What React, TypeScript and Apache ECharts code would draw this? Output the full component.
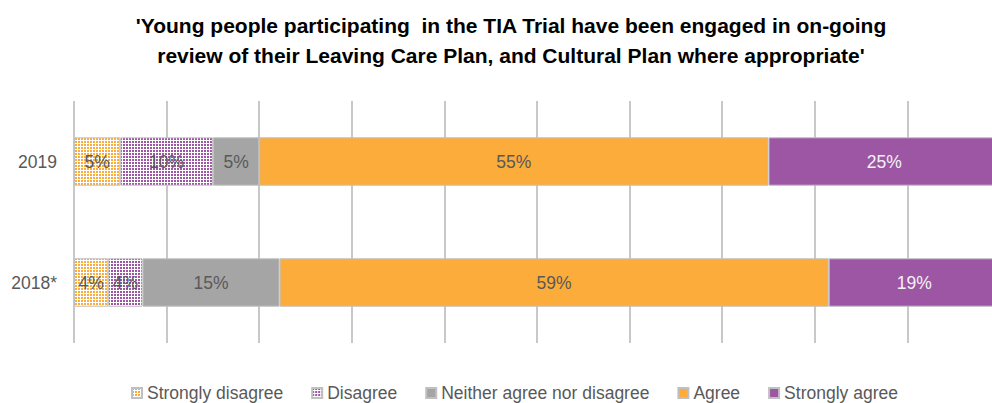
import React, { useEffect, useRef } from "react";
import * as echarts from "echarts";

const categories = ["2018*", "2019"];
const seriesNames = ["Strongly disagree", "Disagree", "Neither agree nor disagree", "Agree", "Strongly agree"];
const stronglyDisagree = [3.7, 5];
const disagree = [3.7, 10];
const neither = [14.8, 5];
const agree = [59.3, 55];
const stronglyAgree = [18.5, 25];
const titleLines = [
  "'Young people participating  in the TIA Trial have been engaged in on-going",
  "review of their Leaving Care Plan, and Cultural Plan where appropriate'",
];

function makePattern(color: string) {
  const c = document.createElement("canvas");
  c.width = 3;
  c.height = 3;
  const ctx = c.getContext("2d")!;
  ctx.fillStyle = "#ffffff";
  ctx.fillRect(0, 0, 3, 3);
  ctx.fillStyle = color;
  ctx.fillRect(0, 0, 2, 2);
  return c;
}

export default function App() {
  const ref = useRef<HTMLDivElement>(null);
  useEffect(() => {
    document.body.style.margin = "0";
    document.body.style.overflow = "hidden";
    const chart = echarts.init(ref.current!, null, { renderer: "svg" });
    const font = "'Liberation Sans', Arial, sans-serif";
    const dark = "#595959";
    const orange = "#FBAC3A";
    const purple = "#9C56A4";
    const grey = "#A5A5A5";
    const fills: any[] = [
      { image: makePattern(orange), repeat: "repeat" },
      { image: makePattern(purple), repeat: "repeat" },
      grey,
      orange,
      purple,
    ];
    const dataSets = [stronglyDisagree, disagree, neither, agree, stronglyAgree];
    const labelColors = [dark, dark, dark, dark, "#f2f2f2"];
    const series = seriesNames.map((name, i) => ({
      name,
      type: "bar",
      stack: "total",
      barWidth: "40%",
      data: dataSets[i],
      itemStyle: { color: fills[i], borderColor: "#c0c0c0", borderWidth: 1 },
      label: {
        show: true,
        position: "inside",
        color: labelColors[i],
        fontFamily: font,
        fontSize: 17.5,
        formatter: (p: any) => Math.round(p.value) + "%",
      },
    }));
    chart.setOption({
      animation: false,
      graphic: [
        {
          type: "text",
          x: 511,
          y: 10,
          style: {
            text: titleLines.join("\n"),
            font: "bold 21px 'Liberation Sans', Arial, sans-serif",
            fill: "#000000",
            textAlign: "center",
            textVerticalAlign: "top",
            lineHeight: 30,
          },
        },
      ],
      legend: {
        left: 126,
        top: 379,
        itemWidth: 10,
        itemHeight: 10,
        itemGap: 28,
        icon: "rect",
        textStyle: { color: dark, fontFamily: font, fontSize: 17.5 },
        data: seriesNames,
      },
      grid: {
        left: 74,
        width: 926,
        top: 101,
        height: 242,
        containLabel: false,
        outerBoundsMode: "none",
      },
      xAxis: {
        type: "value",
        min: 0,
        max: 100,
        interval: 10,
        axisLabel: { show: false },
        axisLine: { show: false },
        axisTick: { show: false },
        splitLine: { show: true, lineStyle: { color: "#c8c8c8", width: 2 } },
      },
      yAxis: {
        type: "category",
        data: categories,
        axisLine: { show: false },
        axisTick: { show: false },
        axisLabel: { color: dark, fontFamily: font, fontSize: 17.5, margin: 17 },
      },
      series,
    });
    return () => chart.dispose();
  }, []);
  return <div ref={ref} style={{ width: 992, height: 403 }} />;
}
